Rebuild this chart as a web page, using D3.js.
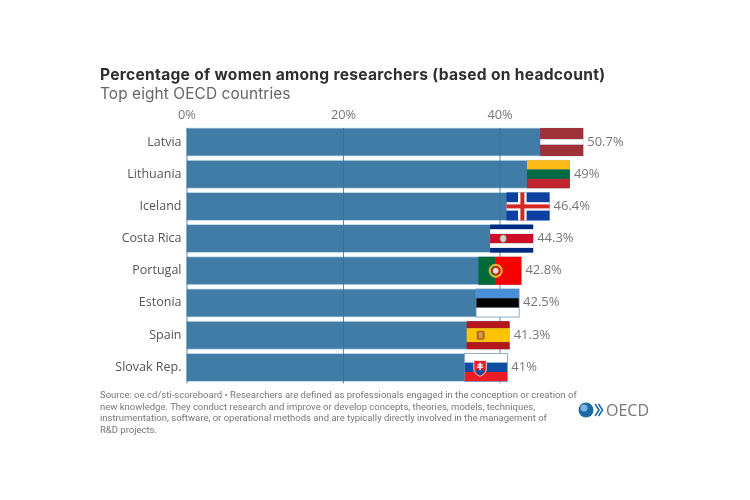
<!DOCTYPE html>
<html>
<head>
<meta charset="utf-8">
<script src="https://cdn.jsdelivr.net/npm/d3@7"></script>
<style>
  html, body { margin: 0; background: #fff; }
  svg { display: block; font-family: "Open Sans", "Noto Sans", sans-serif; }
</style>
</head>
<body>
<svg id="chart" width="750" height="500"></svg>
<script>
const countries = ["Latvia", "Lithuania", "Iceland", "Costa Rica", "Portugal", "Estonia", "Spain", "Slovak Rep."];
const shares = [50.7, 49, 46.4, 44.3, 42.8, 42.5, 41.3, 41];
const shareLabels = ["50.7%", "49%", "46.4%", "44.3%", "42.8%", "42.5%", "41.3%", "41%"];
const tickValues = [0, 20, 40];
const footnote = [
  "Source: oe.cd/sti-scoreboard \u2022 Researchers are defined as professionals engaged in the conception or creation of",
  "new knowledge. They conduct research and improve or develop concepts, theories, models, techniques,",
  "instrumentation, software, or operational methods and are typically directly involved in the management of",
  "R&D projects."
];

const flagW = 43;
const svg = d3.select("#chart");

const x = d3.scaleLinear().domain([0, 40]).range([186.5, 499.5]);
const y = d3.scaleBand().domain(countries).range([128, 381.4]).paddingInner(0.13);
const h = y.bandwidth();
const rows = countries.map((c, i) => ({ country: c, value: shares[i], label: shareLabels[i] }));

// soft blur, the reference is an upscaled screenshot
const blur = svg.append("defs").append("filter").attr("id", "soft");
blur.append("feGaussianBlur").attr("stdDeviation", 0.5);

const root = svg.append("g").attr("filter", "url(#soft)");

root.append("text").attr("x", 100).attr("y", 80)
  .attr("font-family", "Inter, sans-serif")
  .attr("font-size", 15.6).attr("letter-spacing", 0.28).attr("font-weight", 700).attr("fill", "#2f2f2f")
  .text("Percentage of women among researchers (based on headcount)");
root.append("text").attr("x", 100).attr("y", 99)
  .attr("font-family", "Inter, sans-serif")
  .attr("font-size", 15.4).attr("letter-spacing", 0.1).attr("fill", "#666")
  .text("Top eight OECD countries");

// bars
root.append("g").selectAll("rect").data(rows).join("rect")
  .attr("x", x(0))
  .attr("y", d => y(d.country))
  .attr("width", d => x(d.value) - x(0))
  .attr("height", h)
  .attr("fill", "#3f7ca6")
  .attr("stroke", "#cfe6f2")
  .attr("stroke-width", 0.8);

// axis, the gridlines run over the bars
const axis = d3.axisTop(x)
  .tickValues(tickValues)
  .tickFormat(d => d + "%")
  .tickSize(-(y.range()[1] - y.range()[0] + 2))
  .tickPadding(9);
const axisG = root.append("g").attr("transform", `translate(0,${y.range()[0]})`).call(axis);
axisG.select(".domain").remove();
axisG.selectAll("line").attr("stroke", "#356f99").attr("stroke-width", 0.8);
axisG.selectAll("text").attr("font-size", 12.8).attr("fill", "#777")
  .attr("font-family", "'Open Sans', 'Noto Sans', sans-serif");

// stripes as [share of height, colour]
const stripes = {
  "Latvia": [[0.4, "#9e3039"], [0.2, "#fff"], [0.4, "#9e3039"]],
  "Lithuania": [[1 / 3, "#fdb913"], [1 / 3, "#006a44"], [1 / 3, "#c1272d"]],
  "Costa Rica": [[1 / 6, "#002b7f"], [1 / 6, "#fff"], [1 / 3, "#ce1126"], [1 / 6, "#fff"], [1 / 6, "#002b7f"]],
  "Estonia": [[1 / 3, "#4a8fd8"], [1 / 3, "#000"], [1 / 3, "#fff"]],
  "Spain": [[0.25, "#b5121b"], [0.5, "#fdc300"], [0.25, "#b5121b"]],
  "Slovak Rep.": [[1 / 3, "#fff"], [1 / 3, "#0b4ea2"], [1 / 3, "#ee1c25"]]
};

const extras = {
  "Iceland": g => {
    g.append("rect").attr("width", flagW).attr("height", h).attr("fill", "#0b3fa0");
    g.append("rect").attr("x", 11.5).attr("width", 8.5).attr("height", h).attr("fill", "#fff");
    g.append("rect").attr("y", 9.8).attr("width", flagW).attr("height", 8.4).attr("fill", "#fff");
    g.append("rect").attr("x", 13.8).attr("width", 4).attr("height", h).attr("fill", "#d72828");
    g.append("rect").attr("y", 12).attr("width", flagW).attr("height", 4).attr("fill", "#d72828");
  },
  "Portugal": g => {
    g.append("rect").attr("width", flagW * 0.4).attr("height", h).attr("fill", "#046a38");
    g.append("rect").attr("x", flagW * 0.4).attr("width", flagW * 0.6).attr("height", h).attr("fill", "#f40000");
    g.append("circle").attr("cx", 17.3).attr("cy", h / 2).attr("r", 6).attr("fill", "none").attr("stroke", "#e2b23a").attr("stroke-width", 2.2);
    g.append("circle").attr("cx", 17.3).attr("cy", h / 2).attr("r", 3.4).attr("fill", "#e6e0d0").attr("stroke", "#c22").attr("stroke-width", 1);
  },
  "Costa Rica": g => {
    g.append("ellipse").attr("cx", 13).attr("cy", h / 2).attr("rx", 3.2).attr("ry", 3.8).attr("fill", "#cfd6c8").attr("stroke", "#777").attr("stroke-width", 0.6);
  },
  "Spain": g => {
    g.append("rect").attr("x", 10).attr("y", h / 2 - 4.5).attr("width", 8).attr("height", 9).attr("rx", 2).attr("fill", "#a8662c");
    g.append("rect").attr("x", 12).attr("y", h / 2 - 3).attr("width", 4).attr("height", 6).attr("fill", "#d99a3c");
  },
  "Slovak Rep.": g => {
    g.append("path").attr("d", "M9.5 7 H22 V16 Q22 20 15.7 23 Q9.5 20 9.5 16 Z").attr("fill", "#ee1c25").attr("stroke", "#fff").attr("stroke-width", 0.8);
    g.append("path").attr("d", "M11 17.5 Q15.7 14.5 20.5 17.5 Q19 20.5 15.7 22 Q12.5 20.5 11 17.5 Z").attr("fill", "#0b4ea2");
    g.append("path").attr("d", "M15 9 H16.5 V10.8 H18.5 V12 H16.5 V13.2 H19 V14.4 H16.5 V16.5 H15 V14.4 H12.5 V13.2 H15 V12 H13 V10.8 H15 Z").attr("fill", "#fff");
  }
};

// flags sit at the end of each bar
const flags = root.append("g").selectAll("g").data(rows).join("g")
  .attr("transform", d => `translate(${x(d.value) - flagW},${y(d.country)})`);

flags.each(function (d) {
  const g = d3.select(this);
  let top = 0;
  (stripes[d.country] || []).forEach(([share, colour]) => {
    g.append("rect").attr("y", top).attr("width", flagW).attr("height", share * h).attr("fill", colour);
    top += share * h;
  });
  if (extras[d.country]) extras[d.country](g);
  g.append("rect").attr("width", flagW).attr("height", h).attr("fill", "none")
    .attr("stroke", d.country === "Estonia" || d.country === "Slovak Rep." ? "#6f97b8" : "none")
    .attr("stroke-width", 0.7);
});

// category and value labels
root.append("g").selectAll("text").data(rows).join("text")
  .attr("x", 181.5)
  .attr("y", d => y(d.country) + h / 2 + 3.5)
  .attr("text-anchor", "end")
  .attr("font-size", 12.5)
  .attr("fill", "#555")
  .text(d => d.country);

root.append("g").selectAll("text").data(rows).join("text")
  .attr("x", d => x(d.value) + 4)
  .attr("y", d => y(d.country) + h / 2 + 3.5)
  .attr("font-size", 13)
  .attr("fill", "#777")
  .text(d => d.label);

// footnote
root.append("g").selectAll("text").data(footnote).join("text")
  .attr("x", 100)
  .attr("y", (d, i) => 398 + i * 11.5)
  .attr("font-family", "Roboto, sans-serif")
  .attr("font-size", 9.5)
  .attr("fill", "#777")
  .text(d => d);

// OECD logo
const logo = root.append("g").attr("transform", "translate(578,402)");
logo.append("circle").attr("cx", 8).attr("cy", 8).attr("r", 7.5).attr("fill", "#1f6aa5");
logo.append("circle").attr("cx", 6).attr("cy", 6).attr("r", 3.5).attr("fill", "#7fb4dc");
logo.append("path").attr("d", "M17 2 L21 8 L17 14 M20.5 2 L24.5 8 L20.5 14")
  .attr("fill", "none").attr("stroke", "#1f6aa5").attr("stroke-width", 1.6);
logo.append("text").attr("x", 28).attr("y", 13.5).attr("font-size", 16).attr("fill", "#777").text("OECD");
</script>
</body>
</html>
